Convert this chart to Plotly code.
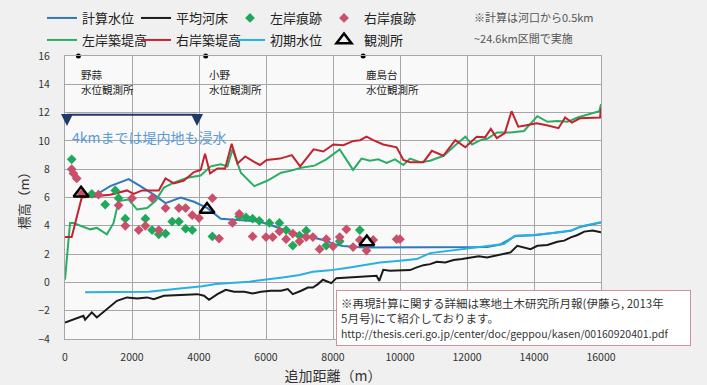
import plotly.graph_objects as go

# ---- data (distance in m, elevation in m) ----
calc_x = [500, 1000, 1350, 1900, 2250, 2650, 3000, 3450, 3850, 4250, 4650, 5000, 5400, 5800,
          6200, 6600, 7000, 7400, 7800, 8000, 8300, 8900, 10000, 11000, 12000, 12600, 13000,
          13450, 14000, 14500, 15100, 15400, 15800, 16000]
calc_y = [6.2, 6.3, 6.8, 7.3, 6.8, 6.2, 5.6, 6.0, 5.7, 5.25, 4.5, 4.45, 4.35, 4.3,
          4.0, 3.65, 3.4, 3.2, 2.95, 2.72, 2.58, 2.47, 2.47, 2.47, 2.47, 2.5, 2.68,
          3.28, 3.33, 3.45, 3.64, 3.94, 4.11, 4.23]

bed_x = [0, 300, 550, 600, 800, 950, 1250, 1550, 1850, 2150, 2450, 2650, 2950, 3350, 3650,
         3950, 4150, 4300, 4550, 4800, 5050, 5350, 5600, 5850, 6150, 6450, 6650, 6800, 7050,
         7250, 7400, 7550, 7700, 7850, 7950, 8100, 8500, 8900, 9300, 9380, 9500, 9700, 10000,
         10300, 10500, 10700, 10900, 11100, 11350, 11600, 11850, 12100, 12350, 12600, 12850,
         13100, 13300, 13500, 13700, 13900, 14100, 14400, 14700, 14900, 15100, 15300, 15500,
         15750, 16000]
bed_y = [-2.83, -2.59, -2.36, -2.64, -2.12, -2.48, -1.89, -1.30, -1.06, -1.13, -1.06, -1.18,
         -0.94, -0.9, -0.83, -0.83, -0.94, -1.23, -0.83, -0.52, -0.66, -0.66, -0.78, -0.66,
         -0.59, -0.59, -0.47, -0.83, -0.59, -0.36, -0.36, -0.12, 0.19, 0.05, -0.05, 0.3, 0.35,
         0.42, 0.47, 0.11, 0.89, 0.82, 0.82, 0.87, 1.06, 1.22, 1.29, 1.46, 1.41, 1.58, 1.65,
         1.76, 1.84, 1.76, 1.88, 2.0, 2.12, 2.59, 2.47, 2.35, 2.59, 2.64, 2.87, 2.95, 3.18,
         3.35, 3.59, 3.66, 3.54]

init_x = [600, 2500, 3500, 4100, 4500, 5500, 6500, 7000, 7400, 7900, 8500, 8900, 9400, 10000,
          10500, 10900, 11500, 12100, 12600, 13100, 13430, 14000, 14500, 15100, 15400, 15800,
          16000]
init_y = [-0.7, -0.66, -0.42, -0.28, -0.12, 0.05, 0.35, 0.52, 0.75, 0.85, 1.06, 1.22, 1.41,
          1.53, 1.65, 2.07, 2.24, 2.40, 2.52, 2.71, 3.30, 3.35, 3.47, 3.66, 3.96, 4.13, 4.25]

left_levee_x = [0, 150, 250, 550, 750, 950, 1250, 1450, 1600, 1900, 2150, 2450, 2700, 2950,
                3250, 3650, 4050, 4350, 4650, 4850, 5000, 5250, 5650, 6050, 6450, 6750, 7050,
                7450, 7800, 8200, 8600, 8850, 9100, 9350, 9600, 9850, 10100, 10300, 10600,
                10900, 11300, 11650, 11950, 12150, 12400, 12600, 12900, 13300, 13700, 14100,
                14400, 14700, 15000, 15300, 15700, 15950, 16000]
left_levee_y = [0.2, 4.2, 4.2, 3.95, 3.75, 3.85, 3.4, 4.2, 5.75, 5.85, 5.15, 5.25, 5.75, 6.7,
                7.05, 7.4, 7.55, 8.2, 8.35, 8.2, 9.4, 7.75, 6.8, 7.2, 7.75, 7.9, 8.1, 8.25,
                8.7, 9.4, 7.95, 8.75, 8.6, 8.7, 8.45, 8.7, 8.3, 8.75, 8.5, 8.6, 8.95, 9.7,
                10.3, 9.75, 10.05, 10.15, 10.6, 10.6, 10.7, 11.75, 11.35, 11.4, 11.35, 11.65,
                11.9, 12.1, 12.6]

right_levee_x = [0, 200, 500, 1000, 1350, 1850, 2050, 2300, 2800, 3000, 3250, 3550, 3850,
                 4050, 4180, 4330, 4550, 4780, 4975, 5150, 5380, 5620, 5820, 6020, 6420, 6770,
                 7020, 7420, 7710, 8010, 8310, 8610, 8810, 9000, 9200, 9500, 9900, 10100,
                 10300, 10700, 10950, 11290, 11650, 11950, 12290, 12540, 12710, 12890, 13130,
                 13330, 13530, 13780, 14080, 14380, 14730, 14930, 15130, 15370, 15670, 15970,
                 16000]
right_levee_y = [3.2, 3.2, 6.0, 6.1, 6.2, 6.5, 6.25, 6.5, 6.5, 7.35, 7.0, 7.2, 7.8, 7.95, 9.1,
                 7.7, 8.05, 8.05, 9.8, 8.4, 8.9, 8.55, 8.3, 8.65, 8.75, 9.0, 8.2, 9.4, 9.25,
                 9.75, 9.7, 10.0, 10.05, 10.3, 10.05, 9.75, 9.55, 8.65, 8.5, 8.5, 9.3, 8.95,
                 10.05, 9.55, 10.3, 10.25, 10.85, 10.2, 10.55, 12.1, 11.0, 11.1, 11.25, 11.1,
                 10.9, 11.65, 11.3, 11.6, 11.65, 11.65, 12.3]

left_mark_x = [200, 800, 1200, 1500, 1600, 1800, 2400, 2600, 2800, 3000, 3200, 3400, 3600,
               3800, 4400, 5200, 5400, 5600, 5800, 6100, 6400, 6600, 6800, 7000, 7200, 7800,
               8200, 8800]
left_mark_y = [8.7, 6.25, 5.5, 6.5, 5.95, 4.5, 4.5, 3.7, 3.4, 3.45, 4.3, 4.3, 3.8, 3.7, 3.25,
               4.65, 4.6, 4.5, 4.35, 4.2, 4.2, 3.7, 2.6, 3.3, 3.65, 2.6, 2.9, 3.7]

right_mark_x = [200, 250, 350, 500, 1000, 1600, 1800, 2000, 2200, 2400, 2600, 2800, 3000,
                3400, 3600, 3800, 4000, 4400, 4600, 5000, 5200, 5600, 6000, 6200, 6400, 6600,
                6800, 7000, 7200, 7400, 7600, 7800, 8000, 8200, 8400, 8600, 8800, 9000, 9200,
                9900, 10000]
right_mark_y = [8.0, 7.7, 7.35, 6.25, 6.2, 5.45, 4.0, 5.95, 3.7, 4.0, 5.95, 3.7, 5.25, 5.25,
                5.25, 4.75, 4.55, 5.95, 3.1, 4.2, 4.85, 3.25, 3.2, 3.2, 3.6, 3.05, 3.45, 2.9,
                3.2, 3.2, 2.35, 3.05, 2.55, 3.2, 3.75, 2.5, 3.0, 2.25, 3.0, 3.05, 3.05]

gauge_x = [480, 4240, 9010]
gauge_y = [6.3, 5.15, 2.85]

station_x = [400, 4200, 8900]
station_y = [16, 16, 16]
station_names = ["野蒜", "小野", "鹿島台"]
station_kind = "水位観測所"

JP = "Noto Sans CJK JP"
BLUE = "#2f78bd"
BLACK = "#1a1a1a"
GREEN_MK = "#1fa85a"
RED_MK = "#c8506a"
GREEN_LN = "#2aad62"
RED_LN = "#c3232f"
CYAN = "#26b0e3"

W, H = 707, 385
L, R, T, B = 65, 106, 56, 46

fig = go.Figure()

def line(x, y, name, color, rank, leg):
    fig.add_trace(go.Scatter(x=x, y=y, mode="lines", name=name, legend=leg, legendrank=rank,
                             line=dict(color=color, width=2)))

line(bed_x, bed_y, "平均河床", BLACK, 2, "legend")
line(calc_x, calc_y, "計算水位", BLUE, 1, "legend")
line(init_x, init_y, "初期水位", CYAN, 3, "legend2")
line(left_levee_x, left_levee_y, "左岸築堤高", GREEN_LN, 1, "legend2")
line(right_levee_x, right_levee_y, "右岸築堤高", RED_LN, 2, "legend2")

fig.add_trace(go.Scatter(x=left_mark_x, y=left_mark_y, mode="markers", name="左岸痕跡",
                         legend="legend", legendrank=3,
                         marker=dict(symbol="diamond", size=7.5, color=GREEN_MK)))
fig.add_trace(go.Scatter(x=right_mark_x, y=right_mark_y, mode="markers", name="右岸痕跡",
                         legend="legend", legendrank=4,
                         marker=dict(symbol="diamond", size=7.5, color=RED_MK)))
fig.add_trace(go.Scatter(x=gauge_x, y=gauge_y, mode="markers", name="観測所",
                         legend="legend2", legendrank=4,
                         marker=dict(symbol="triangle-up-open", size=13, color="black",
                                     line=dict(width=2.5, color="black"))))

# station locations along the top edge, with their names (two lines each)
fig.add_trace(go.Scatter(x=station_x, y=station_y, mode="markers", showlegend=False,
                         marker=dict(size=5, color="black"), cliponaxis=False))
for sx, name in zip(station_x, station_names):
    for txt, dy in ((name, -18), (station_kind, -33.5)):
        fig.add_annotation(x=sx, y=16, text=txt, showarrow=False, xanchor="left",
                           yanchor="middle", xshift=1, yshift=dy,
                           font=dict(family=JP, size=10.5, color="#222"))

# inundation range bracket (0 - 4 km)
NAVY = "#1f3a6a"
fig.add_shape(type="line", x0=60, x1=3940, y0=11.85, y1=11.85, line=dict(color=NAVY, width=2))
for bx in (60, 3940):
    fig.add_annotation(x=bx, y=11.05, ax=0, ay=-12, text="", showarrow=True, arrowhead=2,
                       arrowsize=1.2, arrowwidth=2, arrowcolor=NAVY)
fig.add_annotation(x=150, y=10.3, text="4kmまでは堤内地も浸水", showarrow=False,
                   xanchor="left", yanchor="middle",
                   font=dict(family=JP, size=14, color="#5b9bd5"))

# notes (positioned in page pixels converted to container fractions)
def cx(px):
    return px / W

def cy(py):
    return 1 - py / H

fig.add_annotation(xref="paper", yref="paper", x=(472 - L) / (W - L - R),
                   y=1 + (T - 17) / (H - T - B),
                   text="※計算は河口から0.5km", showarrow=False, xanchor="left",
                   yanchor="middle", font=dict(family=JP, size=11, color="#555"))
fig.add_annotation(xref="paper", yref="paper", x=(472 - L) / (W - L - R),
                   y=1 + (T - 38) / (H - T - B),
                   text="~24.6km区間で実施", showarrow=False, xanchor="left",
                   yanchor="middle", font=dict(family=JP, size=11, color="#555"))
fig.add_annotation(xref="paper", yref="paper", x=(336 - L) / (W - L - R),
                   y=1 - (290 - T) / (H - T - B),
                   text=("※再現計算に関する詳細は寒地土木研究所月報(伊藤ら, 2013年<br>"
                         "5月号)にて紹介しております。<br>"
                         "<span style='font-size:10.5px'>http://thesis.ceri.go.jp/center/doc/geppou/kasen/00160920401.pdf</span>"),
                   showarrow=False, xanchor="left", yanchor="top", align="left",
                   bgcolor="white", bordercolor="#d4919b", borderwidth=1, borderpad=4,
                   width=345, font=dict(family=JP, size=11.5, color="#333"))

leg_common = dict(orientation="h", xref="container", yref="container", xanchor="left",
                  yanchor="middle", entrywidth=49, entrywidthmode="pixels",
                  bgcolor="rgba(0,0,0,0)", font=dict(family=JP, size=13, color="#222"),
                  traceorder="normal")

fig.update_layout(
    width=W, height=H,
    margin=dict(l=L, r=R, t=T, b=B, autoexpand=False),
    paper_bgcolor="#f0f0f0", plot_bgcolor="#f9f9f9",
    font=dict(family=JP, color="#333"),
    legend=dict(x=cx(42), y=cy(18), **leg_common),
    legend2=dict(x=cx(42), y=cy(40), **leg_common),
)
fig.update_xaxes(range=[0, 16000], dtick=2000, tickformat="d", showgrid=True,
                 gridcolor="#a6a6a6", gridwidth=1, zeroline=False, showline=True,
                 linecolor="#a6a6a6", mirror=True, automargin=False,
                 ticklabelstandoff=8, tickfont=dict(size=10.5, color="#333"),
                 title=dict(text="追加距離（m）", font=dict(family=JP, size=14, color="#333"),
                            standoff=8))
fig.update_yaxes(range=[-4, 16], dtick=2, showgrid=True, gridcolor="#a6a6a6",
                 gridwidth=1, zeroline=False, showline=True, linecolor="#a6a6a6", mirror=True,
                 automargin=False, ticklabelstandoff=12, tickfont=dict(size=10.5, color="#333"),
                 title=dict(text="標高（m）", font=dict(family=JP, size=13, color="#333"),
                            standoff=5))

fig.write_html("out.html")
